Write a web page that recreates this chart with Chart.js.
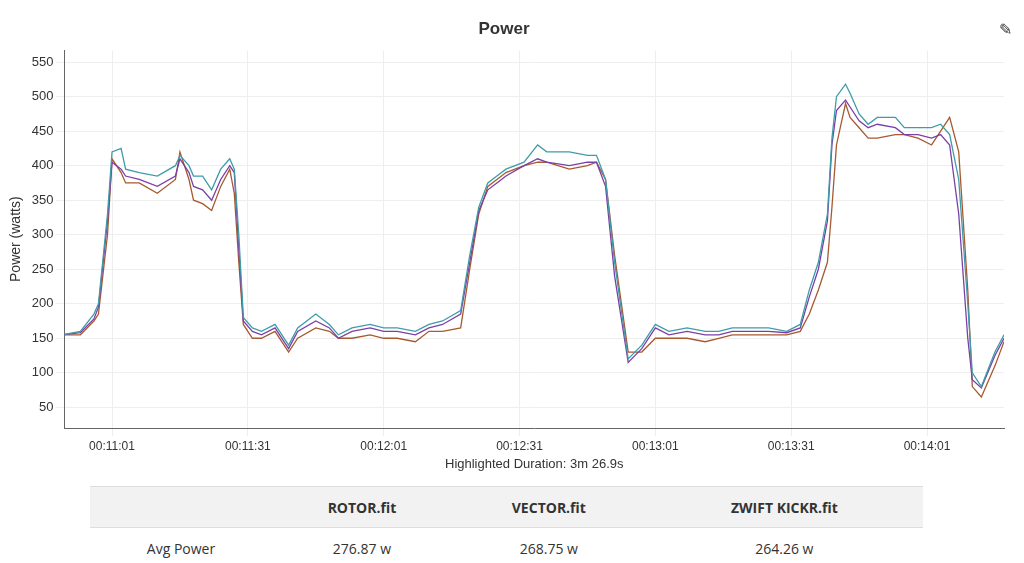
<!DOCTYPE html>
<html>
<head>
<meta charset="utf-8">
<script src="https://cdn.jsdelivr.net/npm/chart.js@4"></script>
<style>
    body { margin: 0; background: #fff; font-family: "Open Sans", Arial, sans-serif; color: #333; }
    #wrap { position: relative; width: 1024px; height: 472px; }
    #icon { position: absolute; right: 12px; top: 18px; font-size: 16px; color: #333; }
    table { position: absolute; left: 90px; top: 486px; width: 833px; border-collapse: collapse; font-size: 14px; }
    th { background: #f2f2f2; height: 38px; font-weight: bold; border-top: 1px solid #ddd; border-bottom: 1px solid #ddd; }
    td { height: 38px; text-align: center; }
</style>
</head>
<body>
<div id="wrap"><canvas id="powerChart"></canvas><div id="icon">&#x270E;</div></div>
<table>
    <tr><th style="width:180px"></th><th>ROTOR.fit</th><th>VECTOR.fit</th><th>ZWIFT KICKR.fit</th></tr>
    <tr><td>Avg Power</td><td>276.87 w</td><td>268.75 w</td><td>264.26 w</td></tr>
</table>
<script>
// seconds since 00:00:00
const times = [650,654,657,658,660,661,663,664,667,671,675,676,678,679,681,683,685,687,688,689,
    690,692,694,697,700,702,706,709,711,714,718,721,724,728,731,734,738,740,742,744,
    746,748,752,755,757,762,766,768,770,772,775,778,781,784,788,792,795,798,802,806,
    810,813,815,817,819,820,821,823,824,826,828,830,834,836,839,842,844,846,848,850,
    851,853,856,858];
const rotor = [155,160,185,200,330,420,425,395,390,385,400,415,400,385,385,365,395,410,395,300,
    180,165,160,170,140,165,185,170,155,165,170,165,165,160,170,175,190,270,340,375,
    385,395,405,430,420,420,415,415,380,260,120,140,170,160,165,160,160,165,165,165,
    160,170,220,260,330,440,500,518,505,475,460,470,470,455,455,455,460,445,380,200,
    100,80,130,155];
const vector = [155,158,178,195,320,405,395,385,380,370,385,410,390,370,365,350,380,400,390,280,
    175,160,155,165,135,160,175,165,150,160,165,160,160,155,165,170,185,260,335,365,
    375,385,400,410,405,400,405,405,370,240,115,135,165,155,160,155,155,160,160,160,
    158,165,210,250,320,430,480,495,485,465,455,460,455,445,445,440,445,430,330,150,
    90,78,125,150];
const kickr = [155,155,175,185,300,410,390,375,375,360,380,420,380,350,345,335,370,395,360,260,
    170,150,150,160,130,150,165,160,150,150,155,150,150,145,160,160,165,250,330,370,
    380,390,400,405,405,395,400,405,380,270,130,130,150,150,150,145,150,155,155,155,
    155,160,185,220,260,340,430,490,470,455,440,440,445,445,440,430,450,470,420,220,
    80,65,110,145];
const xTicks = [661, 691, 721, 751, 781, 811, 841];
const yTicks = [50, 100, 150, 200, 250, 300, 350, 400, 450, 500, 550];

const pts = (vals) => times.map((t, i) => ({ x: t, y: vals[i] }));
const fmt = (s) => {
    const p = (n) => String(n).padStart(2, '0');
    return p(Math.floor(s / 3600)) + ':' + p(Math.floor(s / 60) % 60) + ':' + p(s % 60);
};
const line = (label, vals, color) => ({
    label: label, data: pts(vals), borderColor: color, borderWidth: 1.3,
    pointRadius: 0, tension: 0, fill: false
});

const powerChart = () => {
    const ctx = document.getElementById('powerChart').getContext('2d');
    new Chart(ctx, {
        type: 'line',
        data: {
            datasets: [
                line('ROTOR.fit', rotor, '#3f9ca8'),
                line('VECTOR.fit', vector, '#7a3fa8'),
                line('ZWIFT KICKR.fit', kickr, '#a65a30')
            ]
        },
        options: {
            responsive: true,
            maintainAspectRatio: false,
            animation: false,
            layout: { padding: { right: 20, left: 4 } },
            scales: {
                x: {
                    type: 'linear', min: 650.5, max: 858,
                    afterBuildTicks: (a) => { a.ticks = xTicks.map(v => ({ value: v })); },
                    ticks: { callback: (v) => fmt(v), color: '#333', font: { size: 12 }, maxRotation: 0 },
                    grid: { color: '#eeeeee' },
                    border: { color: '#666' },
                    title: { display: true, text: 'Highlighted Duration: 3m 26.9s', color: '#333', font: { size: 13 }, padding: 0 }
                },
                y: {
                    min: 20, max: 567,
                    afterBuildTicks: (a) => { a.ticks = yTicks.map(v => ({ value: v })); },
                    ticks: { color: '#333', font: { size: 13 } },
                    grid: { color: '#eeeeee' },
                    border: { color: '#666' },
                    title: { display: true, text: 'Power (watts)', color: '#333', font: { size: 14 } }
                }
            },
            plugins: {
                legend: { display: false },
                tooltip: { enabled: false },
                title: { display: true, text: 'Power', color: '#333', font: { size: 17, weight: 'bold' }, padding: { top: 19, bottom: 11 } }
            }
        }
    });
}
document.addEventListener('DOMContentLoaded', powerChart);
</script>
</body>
</html>
